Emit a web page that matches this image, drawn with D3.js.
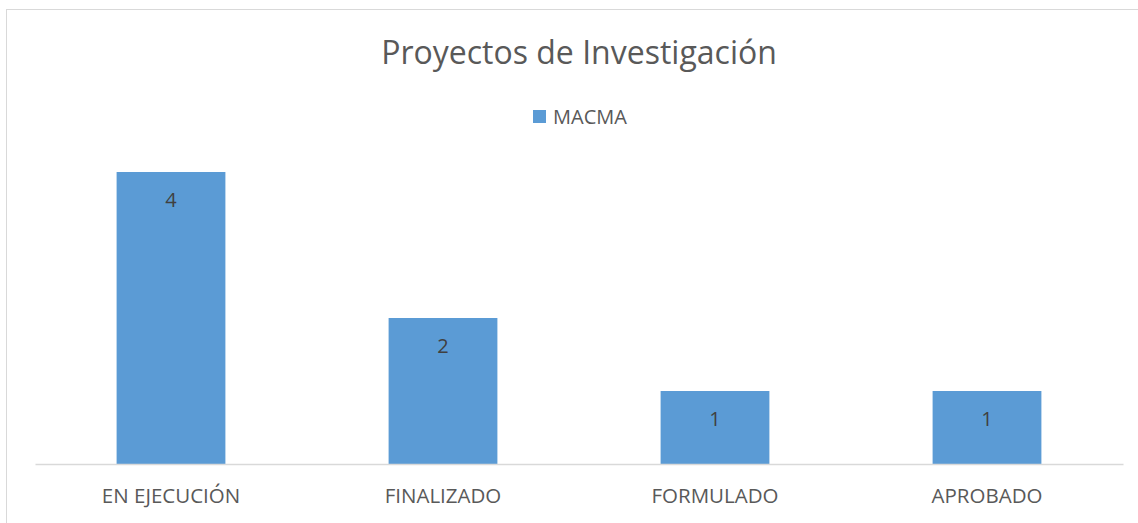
<!DOCTYPE html>
<html>
<head>
<meta charset="utf-8">
<script src="https://cdn.jsdelivr.net/npm/d3@7"></script>
<style>
  body { margin: 0; background: #fff; }
  svg text { font-family: "Open Sans", sans-serif; }
</style>
</head>
<body>
<div id="grafico"></div>
<script>
const categorias = ['EN EJECUCIÓN', 'FINALIZADO', 'FORMULADO', 'APROBADO'];
const valores = [4, 2, 1, 1];
const serie = 'MACMA';
const titulo = 'Proyectos de Investigación';

const width = 1138;
const height = 523;
const plotLeft = 35;
const plotRight = 1123;
const plotTop = 26;
const plotBottom = 464;
const color = '#5b9bd5';

const svg = d3.select('#grafico')
    .append('svg')
    .attr('width', width)
    .attr('height', height);

// marco del grafico
svg.append('rect')
    .attr('x', 6.5)
    .attr('y', 9.5)
    .attr('width', width + 10)
    .attr('height', height + 10)
    .attr('fill', 'none')
    .attr('stroke', '#d9d9d9');

const xScale = d3.scaleBand()
    .domain(categorias)
    .range([plotLeft, plotRight])
    .paddingInner(0.6)
    .paddingOuter(0.3);

// 1 unidad = 73 px
const yScale = d3.scaleLinear()
    .domain([0, 6])
    .range([plotBottom, plotTop]);

svg.selectAll('rect.bar')
    .data(valores)
    .enter()
    .append('rect')
    .attr('class', 'bar')
    .attr('x', (d, i) => xScale(categorias[i]))
    .attr('y', d => yScale(d))
    .attr('width', xScale.bandwidth())
    .attr('height', d => yScale(0) - yScale(d))
    .attr('fill', color);

svg.selectAll('text.valor')
    .data(valores)
    .enter()
    .append('text')
    .attr('class', 'valor')
    .attr('x', (d, i) => xScale(categorias[i]) + xScale.bandwidth() / 2)
    .attr('y', d => yScale(d) + 35)
    .attr('text-anchor', 'middle')
    .attr('font-size', 20)
    .attr('fill', '#404040')
    .text(d => d);

const xAxis = d3.axisBottom(xScale).tickSize(0).tickPadding(24);

const ejeX = svg.append('g')
    .attr('transform', `translate(0, ${plotBottom})`)
    .call(xAxis);

ejeX.select('.domain')
    .attr('stroke', '#d9d9d9')
    .attr('stroke-width', 1.5);

ejeX.selectAll('text')
    .attr('font-size', 20.5)
    .attr('fill', '#595959');

// titulo
svg.append('text')
    .attr('x', 579)
    .attr('y', 64)
    .attr('text-anchor', 'middle')
    .attr('font-size', 32)
    .attr('fill', '#595959')
    .text(titulo);

// legenda
const legenda = svg.append('g');
legenda.append('rect')
    .attr('x', 533)
    .attr('y', 110)
    .attr('width', 13)
    .attr('height', 13)
    .attr('fill', color);
legenda.append('text')
    .attr('x', 553)
    .attr('y', 124)
    .attr('font-size', 20)
    .attr('fill', '#595959')
    .text(serie);
</script>
</body>
</html>
